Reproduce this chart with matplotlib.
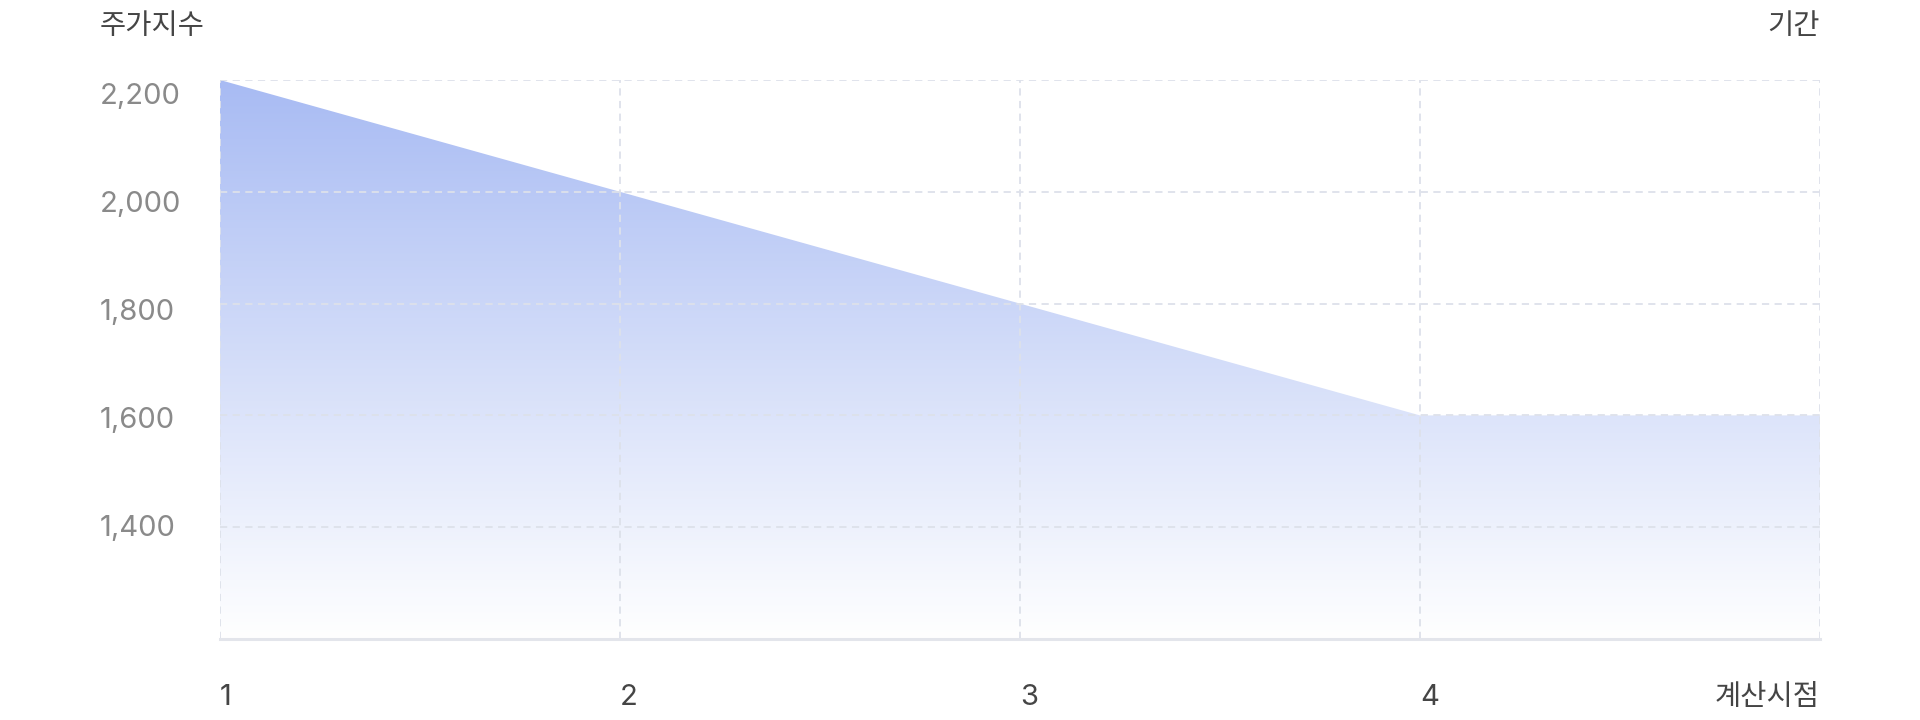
"""Stock index area chart with vertical gradient fill."""
import numpy as np
import matplotlib
matplotlib.use("Agg")
import matplotlib.pyplot as plt
from matplotlib.colors import LinearSegmentedColormap
from matplotlib.transforms import blended_transform_factory

plt.rcParams['font.family'] = ['Inter', 'Noto Sans CJK KR', 'DejaVu Sans']

# ── data ────────────────────────────────────────────────────
x_vals = [1, 2, 3, 4, 5]
index_vals = [2200, 2000, 1800, 1600, 1600]
x_labels = ["1", "2", "3", "4", "계산시점"]
y_ticks = [1400, 1600, 1800, 2000, 2200]
y_labels = ["1,400", "1,600", "1,800", "2,000", "2,200"]
Y_MIN, Y_MAX = 1200, 2200

# ── colours / sizes ─────────────────────────────────────────
C_TOP = "#a8bbf3"
C_GRID = "#dde1ea"
C_AXIS = "#e3e5eb"
C_YTXT = "#8a8a8a"
C_TXT = "#454545"
FS_NUM = 21
FS_KOR = 20.5

fig = plt.figure(figsize=(19.2, 7.2), dpi=100)
ax = fig.add_axes([220/1920, 81/720, 1600/1920, 559/720])
ax.set_xlim(x_vals[0], x_vals[-1])
ax.set_ylim(Y_MIN, Y_MAX)

# gradient fill clipped to the area under the line
poly = ax.fill_between(x_vals, index_vals, Y_MIN, color="none", lw=0)
cmap = LinearSegmentedColormap.from_list("grad", ["#ffffff", C_TOP])
grad = np.linspace(0, 1, 256).reshape(-1, 1)
img = ax.imshow(grad, cmap=cmap, aspect="auto", origin="lower",
                extent=[x_vals[0], x_vals[-1], Y_MIN, Y_MAX], zorder=1)
img.set_clip_path(poly.get_paths()[0], transform=ax.transData)

# grid
for yt in y_ticks:
    ax.axhline(yt, color=C_GRID, lw=1.3, ls=(0, (4, 3)), zorder=2)
for xv in x_vals:
    ax.axvline(xv, color=C_GRID, lw=1.3, ls=(0, (4, 3)), zorder=2)
ax.axhline(Y_MIN, color=C_AXIS, lw=2.2, zorder=3, clip_on=False)

ax.set_xticks([]); ax.set_yticks([])
for s in ax.spines.values():
    s.set_visible(False)

# y labels (slightly compressed toward the middle, as in the original)
ylab_tr = blended_transform_factory(fig.transFigure, ax.transAxes)
for yt, lab in zip(y_ticks, y_labels):
    frac = (yt - Y_MIN) / (Y_MAX - Y_MIN)
    ax.text(100/1920, 0.004 + 0.966*frac, lab, transform=ylab_tr,
            ha="left", va="center", fontsize=FS_NUM, color=C_YTXT)

# x labels
xlab_tr = blended_transform_factory(ax.transData, ax.transAxes)
for i, (xv, lab) in enumerate(zip(x_vals, x_labels)):
    last = i == len(x_vals) - 1
    ax.text(xv, -0.105, lab, transform=xlab_tr, ha="right" if last else "left",
            va="center", fontsize=FS_KOR if last else FS_NUM, color=C_TXT)

# axis titles
fig.text(100/1920, 1 - 27/720, "주가지수", ha="left", va="center",
         fontsize=FS_KOR, color=C_TXT)
fig.text(1820/1920, 1 - 27/720, "기간", ha="right", va="center",
         fontsize=FS_KOR, color=C_TXT)

fig.savefig("out.png", dpi=100)
plt.close(fig)
